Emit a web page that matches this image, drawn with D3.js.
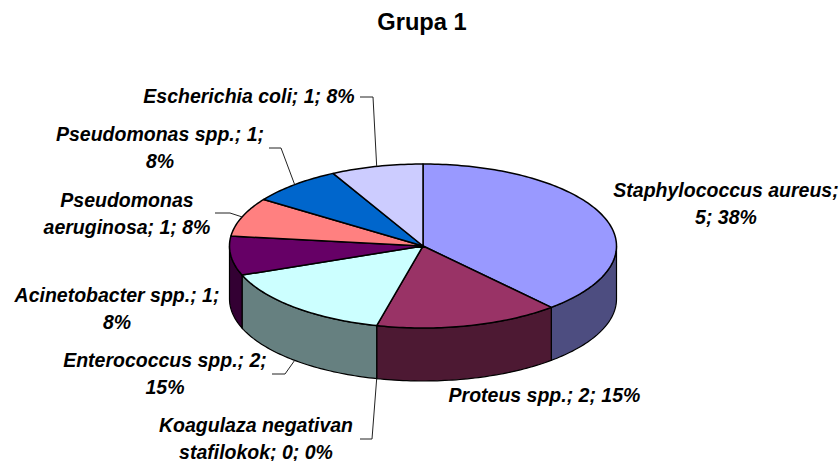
<!DOCTYPE html>
<html>
<head>
<meta charset="utf-8">
<script src="https://cdn.jsdelivr.net/npm/d3@7"></script>
<style>
  html, body { margin: 0; padding: 0; background: #fff; }
  text { font-family: "Liberation Sans", Arial, sans-serif; fill: #000; }
</style>
</head>
<body>
<div id="view"></div>
<script>
'use strict';

const categories = [
  'Staphylococcus aureus', 'Proteus spp.', 'Koagulaza negativan stafilokok',
  'Enterococcus spp.', 'Acinetobacter spp.', 'Pseudomonas aeruginosa',
  'Pseudomonas spp.', 'Escherichia coli'
];
const counts = [5, 2, 0, 2, 1, 1, 1, 1];
const topColors = ['#9999FF', '#993366', '#FFFFCC', '#CCFFFF', '#660066', '#FF8080', '#0066CC', '#CCCCFF'];
const sideColors = ['#4D4D80', '#4D1933', '#808066', '#668080', '#330033', '#804040', '#003366', '#666680'];
const chartTitle = 'Grupa 1';

const size = { w: 840, h: 461 };
const pie3d = { cx: 423, cy: 246, rx: 193.5, ry: 82, depth: 53 };

// words on first line, label centre, and the elbow of the leader line (null = no leader)
const labelLayout = [
  { words: 2, x: 726, y: 197, elbow: null },
  { words: 4, x: 544.5, y: 402, elbow: null },
  { words: 2, x: 256, y: 432, elbow: { x: 372, y: 439, end: 360 } },
  { words: 3, x: 165, y: 367, elbow: { x: 285, y: 374, end: 272 } },
  { words: 3, x: 117, y: 302, elbow: null },
  { words: 1, x: 127, y: 207, elbow: { x: 230, y: 213, end: 215 } },
  { words: 3, x: 160, y: 141, elbow: { x: 281, y: 148, end: 269 } },
  { words: 5, x: 249, y: 103, elbow: { x: 373, y: 97, end: 360 } }
];

const total = d3.sum(counts);
const slices = d3.pie().sort(null)(counts);

const px = a => pie3d.cx + pie3d.rx * Math.sin(a);
const py = a => pie3d.cy - pie3d.ry * Math.cos(a);
const line = d3.line();

function arcPoints(a0, a1, dy = 0) {
  const n = Math.max(2, Math.ceil((a1 - a0) / 0.02));
  return d3.range(n + 1).map(i => {
    const a = a0 + (a1 - a0) * i / n;
    return [px(a), py(a) + dy];
  });
}

const svg = d3.select('#view').append('svg')
  .attr('width', size.w)
  .attr('height', size.h)
  .style('display', 'block');

svg.append('text')
  .attr('x', 422)
  .attr('y', 30)
  .attr('text-anchor', 'middle')
  .attr('font-size', 23.7)
  .attr('font-weight', 'bold')
  .text(chartTitle);

// side wall, only the part facing the viewer (90deg to 270deg from the top)
const gSides = svg.append('g').attr('stroke', '#000').attr('stroke-width', 1.2);
slices.forEach((d, i) => {
  const a0 = Math.max(d.startAngle, Math.PI / 2);
  const a1 = Math.min(d.endAngle, Math.PI * 1.5);
  if (a1 <= a0) return;
  const pts = arcPoints(a0, a1).concat(arcPoints(a0, a1, pie3d.depth).reverse());
  gSides.append('path')
    .attr('d', line(pts) + 'Z')
    .attr('fill', sideColors[i]);
});

const gTops = svg.append('g').attr('stroke', '#000').attr('stroke-width', 1.5).attr('stroke-linejoin', 'round');
slices.forEach((d, i) => {
  if (d.endAngle === d.startAngle) return;
  const pts = [[pie3d.cx, pie3d.cy]].concat(arcPoints(d.startAngle, d.endAngle));
  gTops.append('path')
    .attr('d', line(pts) + 'Z')
    .attr('fill', topColors[i]);
});

// leader lines run from the slice's mid angle to the label
const gLeaders = svg.append('g').attr('fill', 'none').attr('stroke', '#222').attr('stroke-width', 1);
slices.forEach((d, i) => {
  const e = labelLayout[i].elbow;
  if (!e) return;
  const a = (d.startAngle + d.endAngle) / 2;
  const front = a > Math.PI / 2 && a < Math.PI * 1.5;
  gLeaders.append('path')
    .attr('d', line([[px(a), py(a) + (front ? pie3d.depth : 0)], [e.x, e.y], [e.end, e.y]]));
});

const gLabels = svg.append('g')
  .attr('text-anchor', 'middle')
  .attr('font-size', 19.5)
  .attr('font-weight', 'bold')
  .attr('font-style', 'italic');

categories.forEach((name, i) => {
  const pct = Math.round(counts[i] / total * 100);
  const words = `${name}; ${counts[i]}; ${pct}%`.split(' ');
  const l = labelLayout[i];
  const parts = [words.slice(0, l.words).join(' '), words.slice(l.words).join(' ')].filter(s => s);
  const text = gLabels.append('text');
  parts.forEach((s, k) => {
    text.append('tspan').attr('x', l.x).attr('y', l.y + k * 26.5).text(s);
  });
});
</script>
</body>
</html>
